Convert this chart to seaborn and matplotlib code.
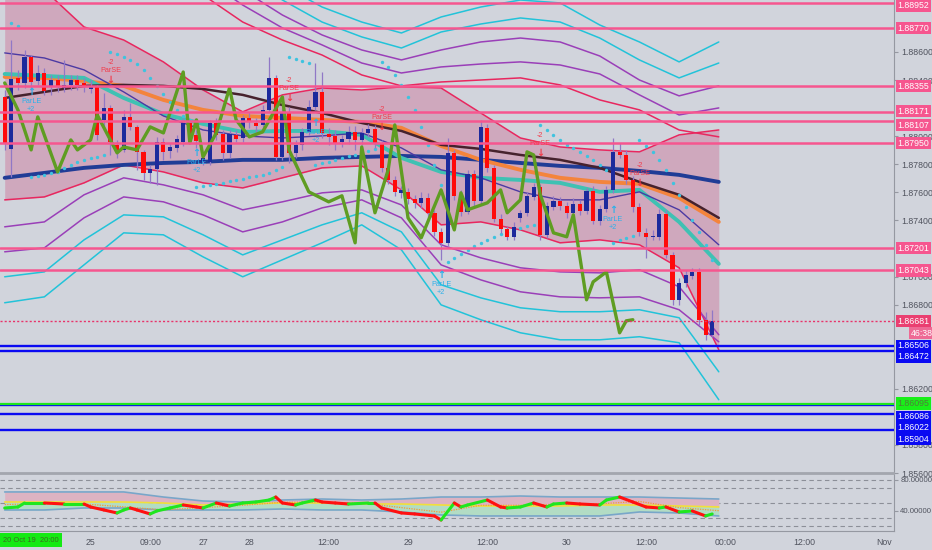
import numpy as np
import matplotlib
matplotlib.use("Agg")
import matplotlib.pyplot as plt
import matplotlib.transforms as mtransforms
from matplotlib.ticker import FormatStrFormatter
import seaborn as sns

# ---------------- hourly candles (bar 0 .. 107) ----------------
opens = [1.88279, 1.87909, 1.88415, 1.88379, 1.88564, 1.88393, 1.88450, 1.88351, 1.88400, 1.88343,
         1.88365, 1.88400, 1.88379, 1.88336, 1.88351, 1.88116, 1.88201, 1.87938, 1.87902, 1.88137,
         1.88066, 1.87888, 1.87738, 1.87767, 1.87959, 1.87895, 1.87916, 1.87959, 1.88094, 1.88009,
         1.87817, 1.87817, 1.88094, 1.88016, 1.87881, 1.88009, 1.87987, 1.88130, 1.88094, 1.88080,
         1.88187, 1.88415, 1.87852, 1.88165, 1.87881, 1.87938, 1.88030, 1.88208, 1.88315, 1.88016,
         1.88002, 1.87959, 1.87980, 1.88030, 1.87973, 1.88023, 1.88052, 1.87952, 1.87774, 1.87688,
         1.87596, 1.87603, 1.87553, 1.87525, 1.87560, 1.87454, 1.87318, 1.87240, 1.87881, 1.87582,
         1.87461, 1.87731, 1.87539, 1.88059, 1.87774, 1.87411, 1.87340, 1.87283, 1.87418, 1.87454,
         1.87567, 1.87639, 1.87297, 1.87496, 1.87539, 1.87503, 1.87454, 1.87518, 1.87468, 1.87610,
         1.87397, 1.87482, 1.87617, 1.87888, 1.87866, 1.87688, 1.87496, 1.87311, 1.87283, 1.87283,
         1.87446, 1.87154, 1.86834, 1.86955, 1.87005, 1.87033, 1.86692, 1.86585]
closes = [1.87952, 1.88408, 1.88379, 1.88564, 1.88386, 1.88450, 1.88322, 1.88400, 1.88351, 1.88365,
          1.88400, 1.88365, 1.88358, 1.88358, 1.88009, 1.88201, 1.87959, 1.87902, 1.88137, 1.88066,
          1.87888, 1.87738, 1.87767, 1.87959, 1.87888, 1.87923, 1.87980, 1.88094, 1.88016, 1.87966,
          1.87845, 1.88094, 1.88009, 1.87881, 1.88016, 1.87980, 1.88130, 1.88101, 1.88073, 1.88187,
          1.88415, 1.87852, 1.88165, 1.87881, 1.87938, 1.88030, 1.88208, 1.88315, 1.88023, 1.87995,
          1.87952, 1.87980, 1.88030, 1.87973, 1.88023, 1.88052, 1.87952, 1.87774, 1.87688, 1.87603,
          1.87617, 1.87553, 1.87525, 1.87560, 1.87454, 1.87318, 1.87240, 1.87881, 1.87575, 1.87461,
          1.87731, 1.87539, 1.88066, 1.87774, 1.87411, 1.87340, 1.87283, 1.87354, 1.87454, 1.87575,
          1.87639, 1.87297, 1.87503, 1.87539, 1.87503, 1.87454, 1.87518, 1.87468, 1.87610, 1.87397,
          1.87482, 1.87617, 1.87888, 1.87866, 1.87688, 1.87496, 1.87318, 1.87283, 1.87290, 1.87446,
          1.87154, 1.86834, 1.86955, 1.87012, 1.87033, 1.86692, 1.86585, 1.86681]
highs = [1.88329, 1.88685, 1.88472, 1.88614, 1.88578, 1.88507, 1.88486, 1.88436, 1.88436, 1.88543,
         1.88436, 1.88436, 1.88415, 1.88400, 1.88365, 1.88308, 1.88222, 1.87973, 1.88187, 1.88237,
         1.88080, 1.87902, 1.87795, 1.87995, 1.87987, 1.87952, 1.88009, 1.88130, 1.88116, 1.88044,
         1.87866, 1.88116, 1.88130, 1.88044, 1.88044, 1.88044, 1.88151, 1.88173, 1.88130, 1.88222,
         1.88564, 1.88436, 1.88201, 1.88208, 1.87973, 1.88059, 1.88258, 1.88521, 1.88457, 1.88059,
         1.88044, 1.88009, 1.88073, 1.88073, 1.88059, 1.88087, 1.88080, 1.87973, 1.87795, 1.87717,
         1.87646, 1.87631, 1.87582, 1.87603, 1.87596, 1.87475, 1.87347, 1.87987, 1.87902, 1.87617,
         1.87760, 1.87760, 1.88116, 1.88087, 1.87795, 1.87446, 1.87361, 1.87389, 1.87475, 1.87603,
         1.87667, 1.87660, 1.87532, 1.87575, 1.87567, 1.87532, 1.87560, 1.87546, 1.87631, 1.87646,
         1.87510, 1.87646, 1.87987, 1.87952, 1.87902, 1.87717, 1.87525, 1.87347, 1.87332, 1.87482,
         1.87475, 1.87176, 1.86991, 1.87048, 1.87062, 1.87062, 1.86749, 1.86763]
lows = [1.87902, 1.87710, 1.88329, 1.88343, 1.88329, 1.88365, 1.88294, 1.88294, 1.88315, 1.88315,
        1.88329, 1.88329, 1.88315, 1.88308, 1.87973, 1.88044, 1.87866, 1.87845, 1.87888, 1.88044,
        1.87760, 1.87688, 1.87667, 1.87653, 1.87831, 1.87845, 1.87888, 1.87930, 1.87973, 1.87916,
        1.87795, 1.87795, 1.87973, 1.87831, 1.87845, 1.87959, 1.87959, 1.88059, 1.88030, 1.88044,
        1.88173, 1.87831, 1.87831, 1.87809, 1.87845, 1.87902, 1.88009, 1.88187, 1.87987, 1.87938,
        1.87902, 1.87923, 1.87945, 1.87902, 1.87938, 1.87995, 1.87916, 1.87745, 1.87660, 1.87575,
        1.87560, 1.87518, 1.87489, 1.87489, 1.87418, 1.87290, 1.87119, 1.87218, 1.87546, 1.87432,
        1.87446, 1.87503, 1.87518, 1.87745, 1.87389, 1.87311, 1.87261, 1.87261, 1.87389, 1.87432,
        1.87546, 1.87261, 1.87276, 1.87475, 1.87475, 1.87418, 1.87432, 1.87439, 1.87446, 1.87375,
        1.87368, 1.87461, 1.87596, 1.87845, 1.87660, 1.87461, 1.87290, 1.87133, 1.87261, 1.87261,
        1.87133, 1.86798, 1.86798, 1.86927, 1.86984, 1.86656, 1.86549, 1.86571]

# ---------------- overlay studies, read every 6 bars ----------------
band_idx = [0, 6, 12, 18, 24, 30, 36, 42, 48, 54, 60, 66, 72, 78, 84, 90, 96, 102, 108]
bb_upper = [1.89041, 1.89041, 1.88778, 1.88685, 1.88529, 1.88329, 1.88173, 1.88294, 1.88343, 1.88329,
            1.88351, 1.88343, 1.88165, 1.87987, 1.87923, 1.87902, 1.87888, 1.88009, 1.88044]
env_red_up = [1.89397, 1.89397, 1.89326, 1.89255, 1.89148, 1.89006, 1.88813, 1.88685, 1.88578, 1.88436,
              1.88358, 1.88386, 1.88400, 1.88415, 1.88365, 1.88258, 1.88187, 1.88044, 1.87995]
env_pur1_up = [1.89540, 1.89540, 1.89468, 1.89397, 1.89290, 1.89127, 1.88934, 1.88771, 1.88650, 1.88521,
               1.88450, 1.88493, 1.88514, 1.88529, 1.88507, 1.88443, 1.88294, 1.88151, 1.88201]
env_pur2_up = [1.89682, 1.89682, 1.89611, 1.89540, 1.89433, 1.89255, 1.89041, 1.88863, 1.88721, 1.88614,
               1.88543, 1.88614, 1.88671, 1.88699, 1.88671, 1.88571, 1.88400, 1.88287, 1.88358]
env_cya1_up = [1.89824, 1.89824, 1.89753, 1.89682, 1.89575, 1.89397, 1.89169, 1.88970, 1.88813, 1.88707,
               1.88628, 1.88742, 1.88799, 1.88842, 1.88813, 1.88699, 1.88543, 1.88415, 1.88521]
env_cya2_up = [1.89967, 1.89967, 1.89896, 1.89824, 1.89718, 1.89540, 1.89290, 1.89077, 1.88920, 1.88813,
               1.88735, 1.88849, 1.88920, 1.88970, 1.88949, 1.88792, 1.88671, 1.88529, 1.88671]
env_red_lo = [1.87546, 1.87567, 1.87667, 1.87795, 1.87745, 1.87667, 1.87631, 1.87703, 1.87774, 1.87788,
              1.87617, 1.87368, 1.87389, 1.87332, 1.87240, 1.87261, 1.87226, 1.87062, 1.86478]
env_pur1_lo = [1.87354, 1.87389, 1.87582, 1.87703, 1.87653, 1.87582, 1.87475, 1.87532, 1.87596, 1.87617,
               1.87510, 1.87226, 1.87133, 1.87062, 1.87033, 1.87026, 1.87048, 1.86927, 1.86585]
env_pur2_lo = [1.87176, 1.87204, 1.87418, 1.87567, 1.87532, 1.87439, 1.87318, 1.87389, 1.87489, 1.87546,
               1.87418, 1.87083, 1.86976, 1.86891, 1.86855, 1.86848, 1.86855, 1.86763, 1.86535]
env_cya1_lo = [1.86998, 1.87033, 1.87261, 1.87439, 1.87425, 1.87297, 1.87154, 1.87261, 1.87368, 1.87454,
               1.87318, 1.86941, 1.86848, 1.86777, 1.86749, 1.86749, 1.86763, 1.86706, 1.86321]
env_cya2_lo = [1.86813, 1.86855, 1.87083, 1.87311, 1.87297, 1.87140, 1.86998, 1.87119, 1.87240, 1.87368,
               1.87190, 1.86798, 1.86692, 1.86599, 1.86549, 1.86549, 1.86571, 1.86528, 1.86122]
ma_slow = [1.87703, 1.87738, 1.87774, 1.87795, 1.87809, 1.87817, 1.87831, 1.87831, 1.87845, 1.87852,
           1.87859, 1.87852, 1.87831, 1.87809, 1.87788, 1.87774, 1.87752, 1.87724, 1.87674]
ma_orange = [1.88422, 1.88415, 1.88393, 1.88358, 1.88258, 1.88187, 1.88144, 1.88130, 1.88116, 1.88101,
             1.88059, 1.87930, 1.87831, 1.87760, 1.87703, 1.87674, 1.87660, 1.87560, 1.87389]
ma_brown = [1.88272, 1.88315, 1.88358, 1.88365, 1.88358, 1.88336, 1.88294, 1.88222, 1.88165, 1.88094,
            1.88037, 1.87938, 1.87909, 1.87866, 1.87831, 1.87774, 1.87674, 1.87582, 1.87418]
ma_teal = [1.88443, 1.88429, 1.88415, 1.88272, 1.88158, 1.88087, 1.88030, 1.88037, 1.88037, 1.88009,
           1.87845, 1.87745, 1.87703, 1.87688, 1.87667, 1.87603, 1.87617, 1.87389, 1.87090]
ma_fast = [1.88593, 1.88557, 1.88472, 1.88315, 1.88144, 1.88044, 1.88002, 1.87987, 1.88002, 1.88023,
           1.87916, 1.87760, 1.87703, 1.87603, 1.87546, 1.87546, 1.87603, 1.87475, 1.87226]

# green zig-zag study
green_idx = [0, 2, 4, 5, 8, 10, 11, 13, 14, 17, 18, 20, 22, 24, 27, 28, 29, 30, 32, 34, 35, 37, 39, 42,
             43, 46, 49, 51, 53, 54, 56, 58, 59, 61, 63, 66, 68, 69, 70, 73, 75, 76, 78, 79, 80, 81, 83,
             85, 86, 88, 89, 91, 93, 94, 95]
green_val = [1.88379, 1.88187, 1.87902, 1.88137, 1.87745, 1.87973, 1.87902, 1.87973, 1.88151, 1.87881,
             1.87923, 1.87902, 1.88066, 1.88023, 1.88457, 1.87952, 1.88116, 1.87852, 1.88023, 1.88343,
             1.88116, 1.87995, 1.88030, 1.88279, 1.87902, 1.87603, 1.87532, 1.87575, 1.87240, 1.87923,
             1.87454, 1.87760, 1.88080, 1.87418, 1.87276, 1.87617, 1.87332, 1.87596, 1.87475, 1.87525,
             1.87617, 1.87454, 1.87546, 1.87888, 1.87866, 1.87582, 1.87311, 1.87283, 1.87439, 1.86834,
             1.86962, 1.87033, 1.86599, 1.86684, 1.86692]

# parabolic SAR dots
sar_idx = [1, 2,
           4, 5, 6, 7, 8, 9, 10, 11, 12, 13, 14, 15,
           16, 17, 18, 19, 20, 21, 22, 23, 24, 25, 26, 27, 28,
           29, 30, 31, 32, 33, 34, 35, 36, 37, 38, 39, 40, 41, 42,
           43, 44, 45, 46,
           47, 48, 49, 50, 51, 52, 53, 54, 55, 56,
           57, 58, 59, 60, 61, 62, 63, 64, 65, 66,
           67, 68, 69, 70, 71, 72, 73, 74, 75, 76, 77, 78, 79, 80,
           81, 82, 83, 84, 85, 86, 87, 88, 89, 90, 91,
           92, 93, 94, 95,
           96, 97, 98, 99, 100, 101, 102, 103, 104, 105, 106, 107]
sar_val = [1.88806, 1.88785,
           1.87710, 1.87717, 1.87724, 1.87738, 1.87745, 1.87774, 1.87795, 1.87817, 1.87831, 1.87845,
           1.87852, 1.87866,
           1.88600, 1.88586, 1.88564, 1.88543, 1.88514, 1.88472, 1.88415, 1.88358, 1.88301, 1.88244,
           1.88187, 1.88144, 1.88116,
           1.87639, 1.87646, 1.87653, 1.87660, 1.87667, 1.87681, 1.87688, 1.87695, 1.87710, 1.87717,
           1.87724, 1.87738, 1.87760, 1.87781,
           1.88564, 1.88550, 1.88536, 1.88521,
           1.87795, 1.87809, 1.87817, 1.87831, 1.87845, 1.87859, 1.87866, 1.87881, 1.87895, 1.87909,
           1.88529, 1.88493, 1.88436, 1.88365, 1.88279, 1.88187, 1.88066, 1.87938, 1.87795, 1.87653,
           1.87105, 1.87133, 1.87162, 1.87190, 1.87218, 1.87240, 1.87261, 1.87283, 1.87304, 1.87318,
           1.87332, 1.87347, 1.87361, 1.87368,
           1.88080, 1.88044, 1.88009, 1.87973, 1.87938, 1.87916, 1.87888, 1.87859, 1.87831, 1.87795,
           1.87760,
           1.87240, 1.87261, 1.87276, 1.87290,
           1.87973, 1.87930, 1.87888, 1.87831, 1.87760, 1.87667, 1.87582, 1.87496, 1.87404, 1.87318,
           1.87226, 1.87119]

# strategy signals
parse_idx = [16, 43, 57, 81, 96]
parse_lvl = [1.88400, 1.88272, 1.88066, 1.87881, 1.87667]
parle_idx = [4, 29, 47, 66, 92]
parle_lvl = [1.88315, 1.87881, 1.88094, 1.87012, 1.87475]

# horizontal levels
pink_levels = [1.88952, 1.88770, 1.88355, 1.88171, 1.88107, 1.87950, 1.87201, 1.87043]
blue_levels = [1.86506, 1.86472, 1.86086, 1.86022, 1.85904]
green_level = 1.86095
last_price = 1.86681
countdown = "46:38"
price_ticks = [1.856, 1.858, 1.862, 1.868, 1.870, 1.874, 1.876, 1.878, 1.880, 1.884, 1.886]

# ---------------- lower oscillator ----------------
rsi_idx = [0, 2, 3, 6, 9, 12, 13, 15, 17, 18, 19, 20, 22, 23, 25, 27, 29, 30, 32, 34, 36, 38, 40, 41,
           42, 44, 45, 47, 48, 50, 52, 55, 56, 57, 60, 62, 65, 66, 68, 69, 70, 73, 75, 76, 78, 80, 82,
           83, 85, 87, 90, 91, 93, 95, 97, 99, 100, 102, 104, 106, 107]
rsi_val = [43.5, 44.8, 50.0, 50.0, 48.7, 48.7, 44.8, 40.9, 37.0, 40.9, 43.5, 40.9, 35.7, 39.6, 43.5,
           47.4, 44.8, 43.5, 50.0, 46.1, 50.0, 51.3, 53.9, 57.8, 50.0, 47.4, 50.0, 53.9, 51.3, 50.0,
           48.7, 50.0, 50.0, 43.5, 37.0, 35.7, 33.1, 27.8, 50.0, 44.8, 47.4, 53.9, 44.8, 43.5, 44.8,
           50.0, 44.8, 48.7, 50.0, 48.7, 47.4, 53.9, 57.8, 51.3, 44.8, 43.5, 44.8, 38.3, 39.6, 33.1, 35.7]
osc_upper = [64.4, 64.4, 64.4, 64.4, 57.8, 52.6, 51.3, 53.9, 55.2, 53.9, 55.2, 57.8, 57.8, 59.1, 57.8,
             57.8, 57.8, 56.5, 55.2]
osc_basis = [51.3, 51.3, 51.3, 51.3, 50.0, 47.4, 48.7, 50.0, 50.0, 48.7, 48.7, 47.4, 46.1, 46.1, 46.1,
             47.4, 47.4, 46.1, 44.8]
osc_lower = [40.9, 40.9, 43.5, 43.5, 40.9, 40.9, 40.9, 42.2, 40.9, 40.9, 38.3, 34.4, 33.1, 33.1, 33.1,
             33.1, 38.3, 37.0, 33.1]
osc_signal = [48.0, 49.0, 48.7, 45.0, 41.0, 44.0, 47.0, 51.0, 51.0, 50.0, 44.0, 38.0, 47.0, 47.0, 48.5,
              49.0, 52.0, 44.0, 40.0]
osc_levels = [80, 70, 50, 30, 20]

time_ticks = [13, 22, 30, 37, 49, 61, 73, 85, 97, 109, 121, 133]
time_labels = ["25", "09:00", "27", "28", "12:00", "29", "12:00", "30", "12:00", "00:00", "12:00", "Nov"]
cursor_label = "20 Oct 19  20:00"

# ---------------- style ----------------
BG = "#d1d4dc"
AXC = "#9598a1"
TXT = "#50535e"
PINK = "#f6568f"
RED = "#e8275f"
PURPLE = "#9a3fb8"
CYAN = "#22c3d9"

sns.set_style("white", {"axes.facecolor": BG, "figure.facecolor": BG})
plt.rcParams["font.family"] = ["Liberation Sans", "DejaVu Sans"]

fig = plt.figure(figsize=(9.32, 5.5), dpi=100)
ax = fig.add_axes([0, 77 / 550, 894 / 932, 473 / 550])
ax2 = fig.add_axes([0, 19 / 550, 894 / 932, 57 / 550])

# bollinger-style fill and envelopes
ax.fill_between(band_idx, bb_upper, env_red_lo, color="#cfa8bd", lw=0, zorder=1)
sns.lineplot(x=band_idx, y=bb_upper, ax=ax, color=RED, lw=1.1, zorder=2)
for vals, col in [(env_red_up, RED), (env_pur1_up, PURPLE), (env_pur2_up, PURPLE),
                  (env_cya1_up, CYAN), (env_cya2_up, CYAN),
                  (env_red_lo, RED), (env_pur1_lo, PURPLE), (env_pur2_lo, PURPLE),
                  (env_cya1_lo, CYAN), (env_cya2_lo, CYAN)]:
    sns.lineplot(x=band_idx, y=vals, ax=ax, color=col, lw=1.1, zorder=2)

# moving averages
sns.lineplot(x=band_idx, y=ma_slow, ax=ax, color="#203c96", lw=2.8, zorder=3)
sns.lineplot(x=band_idx, y=ma_orange, ax=ax, color="#f4843c", lw=2.8, zorder=3)
sns.lineplot(x=band_idx, y=ma_teal, ax=ax, color="#3fc1b3", lw=2.8, zorder=3)
sns.lineplot(x=band_idx, y=ma_brown, ax=ax, color="#46222d", lw=1.8, zorder=3.1)
sns.lineplot(x=band_idx, y=ma_fast, ax=ax, color="#4c3aa3", lw=1.0, zorder=3.1)

# SAR
sns.scatterplot(x=sar_idx, y=sar_val, ax=ax, color="#3ec3df", s=6, linewidth=0, zorder=3.5)

# candles
idx = np.arange(len(opens))
o = np.array(opens)
c = np.array(closes)
body_col = np.where(c >= o, "#1c2a9c", "#ff0a0a")
ax.vlines(idx, lows, highs, color="#9078c6", lw=0.9, zorder=4)
ax.bar(idx, np.maximum(np.abs(c - o), 0.00003), bottom=np.minimum(o, c), width=0.62,
       color=body_col, linewidth=0, zorder=4.5)

# green zig-zag
sns.lineplot(x=green_idx, y=green_val, ax=ax, color="#5f9d22", lw=2.4, zorder=5)

# signals
SE_COL = "#f23b4a"
LE_COL = "#2ab0ea"
for i, lvl in zip(parse_idx, parse_lvl):
    ax.annotate("\u2193", (i, lvl), xytext=(0, 0), textcoords="offset points", ha="center",
                va="center", fontsize=7, fontweight="bold", color=SE_COL, zorder=7,
                family=["DejaVu Sans"])
    ax.annotate("ParSE", (i, lvl), xytext=(0, 6.8), textcoords="offset points", ha="center",
                va="center", fontsize=5.2, color=SE_COL, zorder=7)
    ax.annotate("-2", (i, lvl), xytext=(0, 12.6), textcoords="offset points", ha="center",
                va="center", fontsize=5.2, color=SE_COL, zorder=7)
for i, lvl in zip(parle_idx, parle_lvl):
    ax.annotate("\u2191", (i, lvl), xytext=(0, 0), textcoords="offset points", ha="center",
                va="center", fontsize=7, fontweight="bold", color=LE_COL, zorder=7,
                family=["DejaVu Sans"])
    ax.annotate("ParLE", (i, lvl), xytext=(0, -6.8), textcoords="offset points", ha="center",
                va="center", fontsize=5.2, color=LE_COL, zorder=7)
    ax.annotate("+2", (i, lvl), xytext=(0, -12.6), textcoords="offset points", ha="center",
                va="center", fontsize=5.2, color=LE_COL, zorder=7)

# horizontal levels
for lvl in pink_levels:
    ax.axhline(lvl, color=PINK, lw=1.8, zorder=6)
for lvl in blue_levels:
    ax.axhline(lvl, color="#0a0af2", lw=1.7, zorder=6)
ax.axhline(green_level, color="#1ee61e", lw=1.6, zorder=6.1)
ax.axhline(last_price, color="#e8336a", lw=1.0, ls=(0, (1.5, 1.5)), zorder=6)

# axes look
ax.set_xlim(-0.71, 134.5)
ax.set_ylim(1.85602, 1.88970)
ax.set_xlabel("")
ax.set_ylabel("")
ax.yaxis.tick_right()
ax.set_yticks(price_ticks)
ax.yaxis.set_major_formatter(FormatStrFormatter("%.5f"))
ax.tick_params(axis="y", length=3, color=AXC, labelsize=6.3, labelcolor=TXT, pad=2)
ax.tick_params(axis="x", length=0, labelbottom=False)
for side in ["top", "left"]:
    ax.spines[side].set_visible(False)
ax.spines["right"].set_color(AXC)
ax.spines["bottom"].set_color("#a3a6ae")
ax.spines["bottom"].set_linewidth(1.3)

# price tags on the right scale
trans = mtransforms.blended_transform_factory(ax.transAxes, ax.transData)


def price_tag(level, text, fc, tc="white", shift_px=0, dx=2.5):
    ax.annotate(text, xy=(1.0, level), xycoords=trans, xytext=(dx, -shift_px * 0.72),
                textcoords="offset points", ha="left", va="center", fontsize=6.3, color=tc,
                zorder=10, annotation_clip=False,
                bbox=dict(boxstyle="square,pad=0.18", fc=fc, ec="none"))


pink_shift = [3, 0, 0, -1, 4, 0, 0, 0]
for lvl, s in zip(pink_levels, pink_shift):
    price_tag(lvl, f"{lvl:.5f}", PINK, shift_px=s)
blue_shift = [0, 6, 12, 14, 9]
for lvl, s in zip(blue_levels, blue_shift):
    price_tag(lvl, f"{lvl:.5f}", "#0a0af2", shift_px=s)
price_tag(green_level, f"{green_level:.5f}", "#19ef19", tc="#4f7d3a", shift_px=0)
price_tag(last_price, f"{last_price:.5f}", "#ea3f71", shift_px=0)
price_tag(last_price, countdown, "#ee6a95", shift_px=12, dx=12)

# ---------------- lower panel ----------------
ax2.fill_between(band_idx, osc_upper, osc_basis, color="#ddb3c2", lw=0, zorder=1)
ax2.fill_between(band_idx, osc_basis, osc_lower, color="#b2dcc4", lw=0, zorder=1)
sns.lineplot(x=band_idx, y=osc_upper, ax=ax2, color="#79a6c9", lw=1.2, zorder=2)
sns.lineplot(x=band_idx, y=osc_lower, ax=ax2, color="#79a6c9", lw=1.2, zorder=2)
sns.lineplot(x=band_idx, y=osc_basis, ax=ax2, color="#f0e03a", lw=1.2, zorder=2)
sns.lineplot(x=band_idx, y=osc_signal, ax=ax2, color="#f39a3a", lw=0.9, ls=(0, (1, 1)), zorder=3)
for v in osc_levels:
    ax2.axhline(v, color="#8c8f98", lw=0.8, ls=(0, (4, 3)), zorder=0.8)
for k in range(1, len(rsi_idx)):
    col = "#1fe61f" if rsi_val[k] >= rsi_val[k - 1] else "#ff1010"
    ax2.plot(rsi_idx[k - 1:k + 1], rsi_val[k - 1:k + 1], color=col, lw=2.2,
             solid_capstyle="round", zorder=5)

ax2.set_xlim(-0.71, 134.5)
ax2.set_ylim(13.5, 87.8)
ax2.set_xlabel("")
ax2.set_ylabel("")
ax2.yaxis.tick_right()
ax2.set_yticks([40, 80])
ax2.set_yticklabels(["40.00000", "80.00000"])
ax2.set_xticks(time_ticks)
ax2.set_xticklabels(time_labels)
ax2.tick_params(axis="y", length=3, color=AXC, labelsize=5.6, labelcolor=TXT, pad=1.5)
ax2.tick_params(axis="x", length=3, color=AXC, labelsize=6.3, labelcolor=TXT, pad=2)
ax2.spines["left"].set_visible(False)
for side in ["right", "bottom"]:
    ax2.spines[side].set_color(AXC)
ax2.spines["top"].set_color("#a3a6ae")
ax2.spines["top"].set_linewidth(1.3)

fig.text(3 / 932, 1 - 540 / 550, cursor_label, ha="left", va="center", fontsize=5.4,
         color="#3b6b22", bbox=dict(boxstyle="square,pad=0.45", fc="#14ea14", ec="none"))

fig.savefig("out.png", dpi=100, facecolor=BG)
